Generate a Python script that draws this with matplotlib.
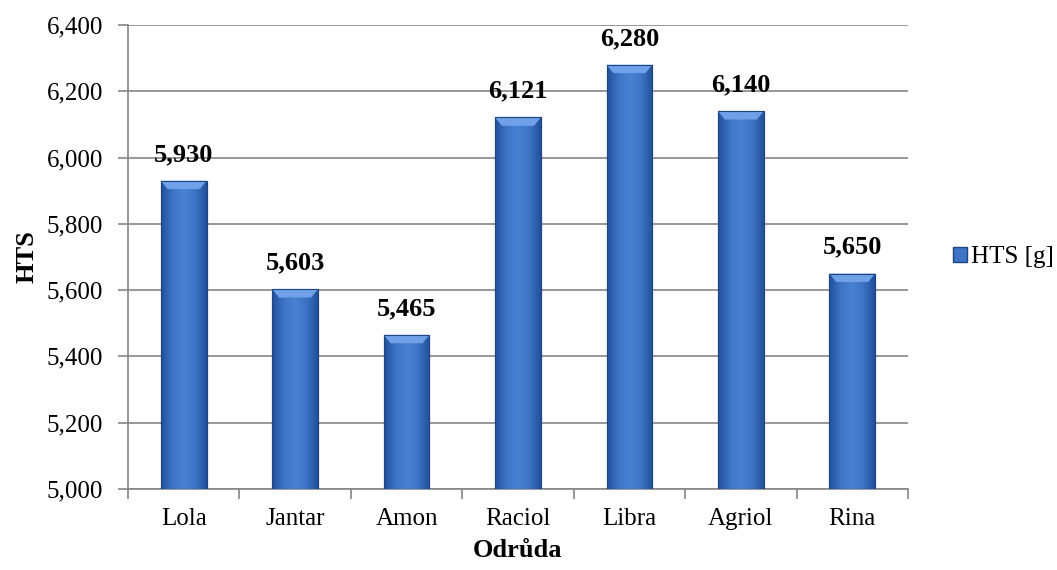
import matplotlib.pyplot as plt
import matplotlib.patches as mpatches
import numpy as np
from matplotlib.colors import LinearSegmentedColormap
from matplotlib.ticker import FuncFormatter, MultipleLocator

# data
varieties = ['Lola', 'Jantar', 'Amon', 'Raciol', 'Libra', 'Agriol', 'Rina']
hts = [5930, 5603, 5465, 6121, 6280, 6140, 5650]
series_name = 'HTS [g]'

plt.rcParams['font.family'] = ['Liberation Serif', 'DejaVu Serif']

fig = plt.figure(figsize=(10.57, 5.7), dpi=100)
ax = fig.add_axes([0.1211, 0.1421, 0.7379, 0.8140])

ymin, ymax = 5000, 6400
x = np.arange(len(varieties))
width = 0.41

# horizontal gradient for the bevelled look of the bars
bar_cmap = LinearSegmentedColormap.from_list(
    'bevel', ['#23509a', '#3d74c6', '#4a82d2', '#3d74c6', '#23509a'])
grad = np.linspace(0, 1, 64).reshape(1, -1)

bars = ax.bar(x, [v - ymin for v in hts], width, bottom=ymin,
              color='#3d74c6', edgecolor='#1d4680', linewidth=0.8, zorder=3)

for rect in bars:
    x0, y0 = rect.get_x(), rect.get_y()
    w, h = rect.get_width(), rect.get_height()
    im = ax.imshow(grad, extent=[x0, x0 + w, y0, y0 + h], aspect='auto',
                   cmap=bar_cmap, zorder=3.1, interpolation='bicubic')
    im.set_clip_path(rect)
    # light top bevel
    bev = (ymax - ymin) * 0.018
    top = mpatches.Polygon([[x0, y0 + h], [x0 + w, y0 + h],
                            [x0 + w * 0.85, y0 + h - bev], [x0 + w * 0.15, y0 + h - bev]],
                           closed=True, facecolor='#6fa0e8', edgecolor='none', zorder=3.2)
    ax.add_patch(top)
    edge = mpatches.Rectangle((x0, y0), w, h, fill=False, edgecolor='#1d4680',
                              linewidth=0.8, zorder=3.3)
    ax.add_patch(edge)

for xi, v in zip(x, hts):
    ax.annotate(f'{v:,}', xy=(xi, v), xytext=(0, 19), textcoords='offset points',
                ha='center', va='center', fontsize=19, fontweight='bold')

ax.set_xlim(-0.5, len(varieties) - 0.5)
ax.set_ylim(ymin, ymax)
ax.yaxis.set_major_locator(MultipleLocator(200))
ax.yaxis.set_major_formatter(FuncFormatter(lambda v, p: f'{int(v):,}'))
ax.set_xticks(x)
ax.set_xticklabels(varieties)
ax.set_xticks(np.arange(-0.5, len(varieties)), minor=True)
ax.tick_params(axis='x', which='major', length=0, pad=14, labelsize=18)
ax.tick_params(axis='x', which='minor', length=7, color='#868686', width=1.2)
ax.tick_params(axis='y', length=7, color='#868686', width=1.2, labelsize=18, pad=11)

ax.grid(axis='y', color='#868686', linewidth=1.2, zorder=0)
ax.set_axisbelow(True)
for s in ['top', 'right']:
    ax.spines[s].set_visible(False)
for s in ['left', 'bottom']:
    ax.spines[s].set_color('#868686')
    ax.spines[s].set_linewidth(1.2)

ax.set_ylabel('HTS', fontsize=19, fontweight='bold', labelpad=6)
ax.set_xlabel('Odrůda', fontsize=19, fontweight='bold', labelpad=6)

handle = mpatches.Patch(facecolor='#3d74c6', edgecolor='#1d4680', label=series_name)
ax.legend(handles=[handle], loc='center left', bbox_to_anchor=(1.045, 0.5),
          frameon=False, fontsize=18, handlelength=0.55, handleheight=0.55,
          handletextpad=0.15, borderaxespad=0)

fig.savefig('out.png', dpi=100)
